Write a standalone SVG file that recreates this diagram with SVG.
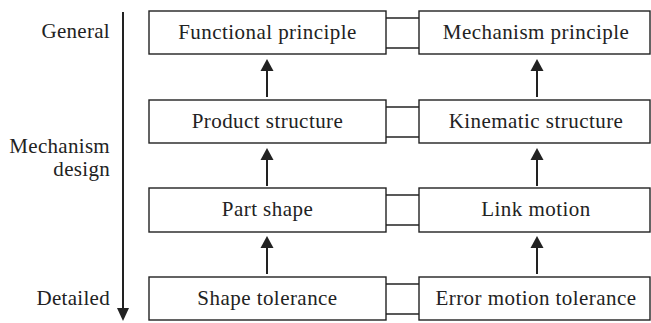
<svg xmlns="http://www.w3.org/2000/svg" width="651" height="323" viewBox="0 0 651 323">
<defs>
<style>
.box{fill:#fff;stroke:#222;stroke-width:1.4}
.t{font-family:"Liberation Serif",serif;font-size:21px;letter-spacing:0.45px;fill:#222;text-anchor:middle}
.lab{font-family:"Liberation Serif",serif;font-size:21px;letter-spacing:0.3px;fill:#222;text-anchor:end}
.ln{stroke:#222;stroke-width:1.4;fill:none}
.ar{stroke:#222;stroke-width:2;fill:none}
.hd{fill:#222}
</style>
</defs>
<g id="labels">
<text class="lab" x="110" y="38">General</text>
<text class="lab" x="110" y="153">Mechanism</text>
<text class="lab" x="110" y="176">design</text>
<text class="lab" x="110" y="305">Detailed</text>
</g>
<g id="axis">
<line class="ar" x1="123" y1="12" x2="123" y2="309"/>
<polygon class="hd" points="117,308 129,308 123,321"/>
</g>
<g id="connectors">
<line class="ln" x1="386" y1="18" x2="419" y2="18"/>
<line class="ln" x1="386" y1="48" x2="419" y2="48"/>
<line class="ln" x1="386" y1="107" x2="419" y2="107"/>
<line class="ln" x1="386" y1="137" x2="419" y2="137"/>
<line class="ln" x1="386" y1="195" x2="419" y2="195"/>
<line class="ln" x1="386" y1="225" x2="419" y2="225"/>
<line class="ln" x1="386" y1="284" x2="419" y2="284"/>
<line class="ln" x1="386" y1="314" x2="419" y2="314"/>
<line class="ar" x1="267" y1="97" x2="267" y2="70"/>
<polygon class="hd" points="260.5,71 273.5,71 267,59"/>
<line class="ar" x1="267" y1="186" x2="267" y2="159"/>
<polygon class="hd" points="260.5,160 273.5,160 267,148"/>
<line class="ar" x1="267" y1="274" x2="267" y2="247"/>
<polygon class="hd" points="260.5,248 273.5,248 267,236"/>
<line class="ar" x1="537" y1="97" x2="537" y2="70"/>
<polygon class="hd" points="530.5,71 543.5,71 537,59"/>
<line class="ar" x1="537" y1="186" x2="537" y2="159"/>
<polygon class="hd" points="530.5,160 543.5,160 537,148"/>
<line class="ar" x1="537" y1="274" x2="537" y2="247"/>
<polygon class="hd" points="530.5,248 543.5,248 537,236"/>
</g>
<g id="functional-principle"><rect class="box" x="149" y="11" width="237" height="43"/><text class="t" x="267.5" y="39">Functional principle</text></g>
<g id="mechanism-principle"><rect class="box" x="419" y="11" width="231" height="43"/><text class="t" x="536" y="39">Mechanism principle</text></g>
<g id="product-structure"><rect class="box" x="149" y="100" width="237" height="43"/><text class="t" x="267.5" y="128">Product structure</text></g>
<g id="kinematic-structure"><rect class="box" x="419" y="100" width="231" height="43"/><text class="t" x="536" y="128">Kinematic structure</text></g>
<g id="part-shape"><rect class="box" x="149" y="188" width="237" height="44"/><text class="t" x="267.5" y="216">Part shape</text></g>
<g id="link-motion"><rect class="box" x="419" y="188" width="231" height="44"/><text class="t" x="536" y="216">Link motion</text></g>
<g id="shape-tolerance"><rect class="box" x="149" y="277" width="237" height="43"/><text class="t" x="267.5" y="305">Shape tolerance</text></g>
<g id="error-motion-tolerance"><rect class="box" x="419" y="277" width="231" height="43"/><text class="t" x="536" y="305">Error motion tolerance</text></g>
</svg>
